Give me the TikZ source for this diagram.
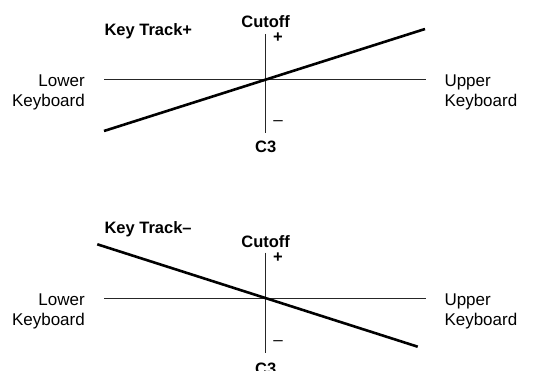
\documentclass[tikz,border=0pt]{standalone}
\usepackage{fontspec}
\setmainfont{Liberation Sans}
\begin{document}
\begin{tikzpicture}[x=1pt,y=-1pt,
  lbl/.style={inner sep=0pt, font=\fontsize{17}{19.4}\selectfont},
  blbl/.style={inner sep=0pt, font=\fontsize{16.5}{19.4}\selectfont\bfseries},
  axis/.style={line width=1pt, draw=black!85},
  curve/.style={line width=2.6pt}]
\useasboundingbox (0,0) rectangle (551,371);
% ---- top panel
\coordinate (aL) at (104,79.3);
\coordinate (aR) at (426,79.3);
\coordinate (aT) at (265.7,34);
\coordinate (aB) at (265.7,133);
\coordinate (kA) at (104,131);
\coordinate (kB) at (425,29);
\draw[axis] (aL) -- (aR);
\draw[axis] (aT) -- (aB);
\draw[curve] (kA) -- (kB);
\node[blbl, anchor=base west] (ktp) at (104.3,36) {Key Track+};
\node[blbl, anchor=base] (cut1) at (265.7,27.3) {Cutoff};
\node[blbl, anchor=center] (plus1) at (278,38) {+};
\node[lbl, anchor=center] (minus1) at (278,123.3) {–};
\node[blbl, anchor=base] (c31) at (265.7,152.7) {C3};
\node[lbl, align=right, anchor=east] (low1) at (85,92.5) {Lower\\Keyboard};
\node[lbl, align=left, anchor=west] (up1) at (444.3,92.5) {Upper\\Keyboard};
% ---- bottom panel
\coordinate (bL) at (104,298.3);
\coordinate (bR) at (426,298.3);
\coordinate (bT) at (265.7,252.7);
\coordinate (bB) at (265.7,352.7);
\coordinate (mA) at (97.3,244.3);
\coordinate (mB) at (417.7,346.7);
\draw[axis] (bL) -- (bR);
\draw[axis] (bT) -- (bB);
\draw[curve] (mA) -- (mB);
\node[blbl, anchor=base west] (ktm) at (104.3,234) {Key Track–};
\node[blbl, anchor=base] (cut2) at (265.7,247.3) {Cutoff};
\node[blbl, anchor=center] (plus2) at (278,257.5) {+};
\node[lbl, anchor=center] (minus2) at (278,342.7) {–};
\node[blbl, anchor=base] (c32) at (265.7,374.4) {C3};
\node[lbl, align=right, anchor=east] (low2) at (85,311.5) {Lower\\Keyboard};
\node[lbl, align=left, anchor=west] (up2) at (444.3,311.5) {Upper\\Keyboard};
\end{tikzpicture}
\end{document}
